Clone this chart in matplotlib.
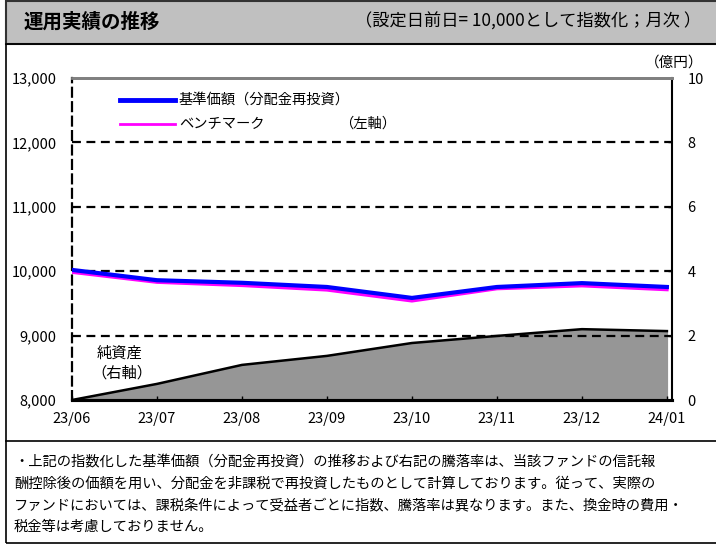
import matplotlib
matplotlib.use("Agg")
import matplotlib.pyplot as plt
from matplotlib.patches import Rectangle
from matplotlib.lines import Line2D

plt.rcParams['font.family'] = ['Noto Sans CJK JP', 'DejaVu Sans']

# --- data ---
months = ["23/06", "23/07", "23/08", "23/09", "23/10", "23/11", "23/12", "24/01"]
nav_reinvested = [10020, 9860, 9820, 9755, 9585, 9755, 9815, 9755]
benchmark = [9985, 9830, 9780, 9710, 9540, 9730, 9775, 9715]
net_assets = [0.0, 0.50, 1.09, 1.37, 1.77, 1.99, 2.20, 2.14]   # 億円

left_ticks = [8000, 9000, 10000, 11000, 12000, 13000]
right_ticks = [0, 2, 4, 6, 8, 10]

notes = [
    "・上記の指数化した基準価額（分配金再投資）の推移および右記の騰落率は、当該ファンドの信託報",
    "酬控除後の価額を用い、分配金を非課税で再投資したものとして計算しております。従って、実際の",
    "ファンドにおいては、課税条件によって受益者ごとに指数、騰落率は異なります。また、換金時の費用・",
    "税金等は考慮しておりません。",
]

W, H = 716, 545
fig = plt.figure(figsize=(W / 100, H / 100), dpi=100)


def fx(x):
    return x / W


def fy(y):
    return 1 - y / H


# header band and frames
fig.add_artist(Rectangle((fx(6), fy(44)), fx(720) - fx(6), fy(1) - fy(44),
                         transform=fig.transFigure, facecolor="#c0c0c0",
                         edgecolor="#333333", lw=1.5, zorder=0))
fig.add_artist(Rectangle((fx(6), fy(543)), fx(720) - fx(6), fy(44) - fy(543),
                         transform=fig.transFigure, facecolor="none",
                         edgecolor="black", lw=1.2, zorder=0))
fig.add_artist(Line2D([fx(6), fx(720)], [fy(441), fy(441)],
                      transform=fig.transFigure, color="black", lw=1.2))

fig.text(fx(24), fy(22), "運用実績の推移", fontsize=14, fontweight="bold",
         va="center", ha="left")
fig.text(fx(701), fy(22), "（設定日前日= 10,000として指数化；月次 ）",
         fontsize=12.4, va="center", ha="right")

ax = fig.add_axes([fx(72), fy(400), fx(672) - fx(72), fy(78) - fy(400)])
x = list(range(len(months)))

ax.set_xlim(0, 7.06)
ax.set_ylim(8000, 13000)
ax.set_yticks(left_ticks)
ax.set_yticklabels([f"{v:,}" for v in left_ticks], fontsize=10.5)
ax.set_xticks(x)
ax.set_xticklabels(months, fontsize=10.5)
for v in left_ticks[1:-1]:
    ax.axhline(v, color="black", lw=1.6, ls=(0, (4, 2.5)), zorder=1)

ax2 = ax.twinx()
ax2.set_ylim(0, 10)
ax2.set_yticks(right_ticks)
ax2.set_yticklabels([str(v) for v in right_ticks], fontsize=10.5)
ax2.fill_between(x, net_assets, 0, color="#969696", zorder=1)
ax2.plot(x, net_assets, color="black", lw=1.8, zorder=2)

# put index lines above the area
ax.set_zorder(ax2.get_zorder() + 1)
ax.patch.set_visible(False)
ax.plot(x, benchmark, color="#ff00ff", lw=2.5, zorder=3)
ax.plot(x, nav_reinvested, color="#0000ff", lw=3, zorder=4)

for a in (ax, ax2):
    a.tick_params(direction="in", length=3, width=1, colors="black")
    a.spines["top"].set_color("#808080")
    a.spines["top"].set_linewidth(2)
ax.tick_params(axis="y", length=0, pad=11)
ax.tick_params(axis="x", pad=9)
ax2.tick_params(axis="y", pad=11)
ax.spines["left"].set_linestyle((0, (4, 2.5)))
ax.spines["left"].set_linewidth(1.6)
ax.spines["right"].set_visible(False)
ax2.spines["left"].set_visible(False)
ax2.spines["right"].set_linewidth(1.5)
ax.spines["bottom"].set_linewidth(2.2)
ax2.spines["bottom"].set_linewidth(2.2)

# legend drawn by hand to match the original layout
fig.add_artist(Line2D([fx(120), fx(175)], [fy(100), fy(100)],
                      transform=fig.transFigure, color="#0000ff", lw=3.5))
fig.add_artist(Line2D([fx(120), fx(175)], [fy(124), fy(124)],
                      transform=fig.transFigure, color="#ff00ff", lw=2))
fig.text(fx(179), fy(100), "基準価額（分配金再投資）", fontsize=10.3, va="center")
fig.text(fx(179), fy(124), "ベンチマーク", fontsize=10.3, va="center")
fig.text(fx(339), fy(124), "（左軸）", fontsize=10.3, va="center")

fig.text(fx(703), fy(63), "（億円）", fontsize=10.5, va="center", ha="right")
fig.text(fx(97), fy(353), "純資産", fontsize=11, va="center")
fig.text(fx(91), fy(373), "（右軸）", fontsize=11, va="center")

for i, line in enumerate(notes):
    fig.text(fx(14), fy(462 + 21.7 * i), line, fontsize=10.3, va="center")

fig.savefig("out.png", dpi=100)
